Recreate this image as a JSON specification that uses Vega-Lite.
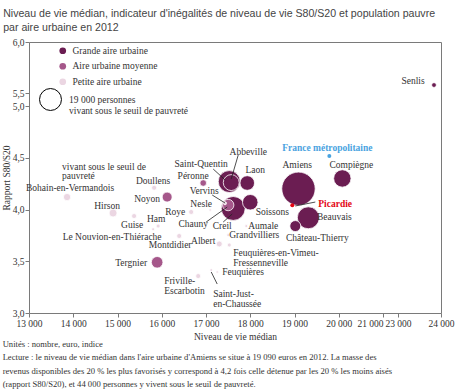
{
  "$schema": "https://vega.github.io/schema/vega-lite/v6.json",
  "background": "white",
  "padding": {"left": 0, "top": 8, "right": 2, "bottom": 2},
  "config": {
    "view": {"stroke": "#7a7a7a", "strokeWidth": 1},
    "font": "Liberation Sans Narrow",
    "axis": {
      "domain": false,
      "grid": false,
      "tickColor": "#7a7a7a",
      "tickSize": 4,
      "labelFont": "Liberation Sans Narrow",
      "labelFontSize": 9.5,
      "labelColor": "#333333",
      "labelPadding": 1,
      "titleFont": "Liberation Sans Narrow",
      "titleFontSize": 9.5,
      "titleFontWeight": "normal",
      "titleColor": "#333333",
      "labelOverlap": false,
      "labelFlush": false
    },
    "legend": {
      "labelFont": "Liberation Sans Narrow",
      "labelFontSize": 9.5,
      "labelColor": "#333333",
      "padding": 0
    },
    "text": {"font": "Liberation Sans Narrow", "fontSize": 9.5, "color": "#333333"}
  },
  "datasets": {
    "aires": [
      {"name": "Amiens", "label": "Amiens", "cat": "Grande aire urbaine", "niveau": 19090, "s80": 4.2, "pop": 44000, "lx": 19063, "ly": 4.43},
      {"name": "Creil", "label": "Creil", "cat": "Grande aire urbaine", "niveau": 17615, "s80": 4.01, "pop": 22600, "lx": 17366, "ly": 3.84},
      {"name": "Saint-Quentin", "label": "Saint-Quentin", "cat": "Grande aire urbaine", "niveau": 17525, "s80": 4.27, "pop": 19000, "lx": 16891, "ly": 4.44},
      {"name": "Beauvais", "label": "Beauvais", "cat": "Grande aire urbaine", "niveau": 19312, "s80": 3.92, "pop": 19000, "lx": 19900, "ly": 3.93},
      {"name": "Compiègne", "label": "Compiègne", "cat": "Grande aire urbaine", "niveau": 20081, "s80": 4.3, "pop": 11900, "lx": 20285, "ly": 4.43},
      {"name": "Abbeville", "label": "Abbeville", "cat": "Grande aire urbaine", "niveau": 17570, "s80": 4.26, "pop": 10000, "lx": 17955, "ly": 4.555},
      {"name": "Soissons", "label": "Soissons", "cat": "Grande aire urbaine", "niveau": 18000, "s80": 4.07, "pop": 9500, "lx": 18498, "ly": 3.976},
      {"name": "Laon", "label": "Laon", "cat": "Grande aire urbaine", "niveau": 17932, "s80": 4.256, "pop": 8400, "lx": 18113, "ly": 4.38},
      {"name": "Château-Thierry", "label": "Château-Thierry", "cat": "Grande aire urbaine", "niveau": 19018, "s80": 3.84, "pop": 4750, "lx": 19516, "ly": 3.72},
      {"name": "Senlis", "label": "Senlis", "cat": "Grande aire urbaine", "niveau": 23837, "s80": 5.578, "pop": 900, "lx": 23349, "ly": 5.618},
      {"name": "Tergnier", "label": "Tergnier", "cat": "Aire urbaine moyenne", "niveau": 15896, "s80": 3.49, "pop": 5300, "lx": 15308, "ly": 3.483},
      {"name": "Chauny", "label": "Chauny", "cat": "Aire urbaine moyenne", "niveau": 17502, "s80": 4.043, "pop": 5100, "lx": 16710, "ly": 3.86},
      {"name": "Noyon", "label": "Noyon", "cat": "Aire urbaine moyenne", "niveau": 16122, "s80": 4.12, "pop": 3900, "lx": 15670, "ly": 4.1},
      {"name": "Péronne", "label": "Péronne", "cat": "Aire urbaine moyenne", "niveau": 16937, "s80": 4.256, "pop": 1750, "lx": 16710, "ly": 4.32},
      {"name": "Hirson", "label": "Hirson", "cat": "Petite aire urbaine", "niveau": 14900, "s80": 3.966, "pop": 2500, "lx": 14765, "ly": 4.034},
      {"name": "Bohain-en-Vermandois", "label": "Bohain-en-Vermandois", "cat": "Petite aire urbaine", "niveau": 13860, "s80": 4.12, "pop": 2100, "lx": 13928, "ly": 4.21},
      {"name": "Albert", "label": "Albert", "cat": "Petite aire urbaine", "niveau": 17300, "s80": 3.667, "pop": 1400, "lx": 16937, "ly": 3.696},
      {"name": "Guise", "label": "Guise", "cat": "Petite aire urbaine", "niveau": 15375, "s80": 3.937, "pop": 1000, "lx": 15330, "ly": 3.85},
      {"name": "Doullens", "label": "Doullens", "cat": "Petite aire urbaine", "niveau": 15828, "s80": 4.21, "pop": 1000, "lx": 15805, "ly": 4.275},
      {"name": "Roye", "label": "Roye", "cat": "Petite aire urbaine", "niveau": 16665, "s80": 3.976, "pop": 1000, "lx": 16303, "ly": 3.976},
      {"name": "Montdidier", "label": "Montdidier", "cat": "Petite aire urbaine", "niveau": 16394, "s80": 3.744, "pop": 1000, "lx": 16190, "ly": 3.657},
      {"name": "Friville-Escarbotin", "label": "Friville-\nEscarbotin", "cat": "Petite aire urbaine", "niveau": 16824, "s80": 3.357, "pop": 1000, "lx": 16054, "ly": 3.314},
      {"name": "Ham", "label": "Ham", "cat": "Petite aire urbaine", "niveau": 15918, "s80": 3.84, "pop": 630, "lx": 15873, "ly": 3.908},
      {"name": "Feuquières-en-Vimeu-Fressenneville", "label": "Feuquières-en-Vimeu-\nFressenneville", "cat": "Petite aire urbaine", "niveau": 17525, "s80": 3.657, "pop": 630, "lx": 17615, "ly": 3.58},
      {"name": "Grandvilliers", "label": "Grandvilliers", "cat": "Petite aire urbaine", "niveau": 17502, "s80": 3.753, "pop": 350, "lx": 18090, "ly": 3.753},
      {"name": "Aumale", "label": "Aumale", "cat": "Petite aire urbaine", "niveau": 17910, "s80": 3.84, "pop": 350, "lx": 18294, "ly": 3.84},
      {"name": "Le Nouvion-en-Thiérache", "label": "Le Nouvion-en-Thiérache", "cat": "Petite aire urbaine", "niveau": 15805, "s80": 3.81, "pop": 350, "lx": 14878, "ly": 3.734},
      {"name": "Saint-Just-en-Chaussée", "label": "Saint-Just-\nen-Chaussée", "cat": "Petite aire urbaine", "niveau": 17118, "s80": 3.415, "pop": 300, "lx": 17163, "ly": 3.179},
      {"name": "Feuquières", "label": "Feuquières", "cat": "Petite aire urbaine", "niveau": 17253, "s80": 3.396, "pop": 250, "lx": 17366, "ly": 3.396},
      {"name": "Nesle", "label": "Nesle", "cat": "Petite aire urbaine", "niveau": 17095, "s80": 3.995, "pop": 230, "lx": 16891, "ly": 4.05},
      {"name": "Vervins", "label": "Vervins", "cat": "Petite aire urbaine", "niveau": 17430, "s80": 4.06, "pop": 350, "lx": 16959, "ly": 4.18}
    ],
    "refs": [
      {"name": "France métropolitaine", "niveau": 19787, "s80": 4.517, "lx": 19742, "ly": 4.594},
      {"name": "Picardie", "niveau": 18950, "s80": 4.04, "lx": 19538, "ly": 4.05}
    ],
    "leaders": [
      {"name": "Abbeville", "x1": 17728, "y1": 4.526, "x2": 17570, "y2": 4.295},
      {"name": "Saint-Quentin", "x1": 17163, "y1": 4.391, "x2": 17434, "y2": 4.285},
      {"name": "Vervins", "x1": 17140, "y1": 4.14, "x2": 17430, "y2": 4.063},
      {"name": "Chauny", "x1": 17004, "y1": 3.879, "x2": 17480, "y2": 4.024},
      {"name": "Creil", "x1": 17389, "y1": 3.879, "x2": 17593, "y2": 3.956},
      {"name": "Picardie", "x1": 19018, "y1": 4.034, "x2": 19470, "y2": 4.072},
      {"name": "Saint-Just-en-Chaussée", "x1": 17118, "y1": 3.396, "x2": 17253, "y2": 3.28}
    ],
    "note": [
      {"text": "vivant sous le seuil de\npauvreté", "niveau": 13747, "s80": 4.41}
    ]
  },
  "title": {
    "text": [
      "Unités : nombre, euro, indice",
      "Lecture : le niveau de vie médian dans l'aire urbaine d'Amiens se situe à 19 090 euros en 2012. La masse des",
      "revenus disponibles des 20 % les plus favorisés y correspond à 4,2 fois celle détenue par les 20 % les moins aisés",
      "(rapport S80/S20), et 44 000 personnes y vivent sous le seuil de pauvreté."
    ],
    "orient": "bottom",
    "anchor": "start",
    "frame": "bounds",
    "font": "Liberation Sans Narrow",
    "fontSize": 8.6,
    "fontWeight": "normal",
    "color": "#333333",
    "lineHeight": 13.5,
    "offset": -2,
    "dx": 2
  },
  "vconcat": [
    {
      "width": 412,
      "height": 271,
      "title": {
        "text": [
          "Niveau de vie médian, indicateur d'inégalités de niveau de vie S80/S20 et population pauvre",
          "par aire urbaine en 2012"
        ],
        "anchor": "start",
        "frame": "bounds",
        "font": "Liberation Sans",
        "fontSize": 10.6,
        "fontWeight": "normal",
        "color": "#444444",
        "lineHeight": 14,
        "offset": 3,
        "dx": 2
      },
      "layer": [
        {
          "data": {"name": "aires"},
          "mark": {"type": "point", "shape": "circle", "filled": true, "opacity": 1, "stroke": "white", "strokeWidth": 0.8},
          "encoding": {
            "x": {
              "field": "niveau", "type": "quantitative",
              "scale": {"domain": [13000, 21000, 23000, 24000], "range": [0, 354, 369, 412], "nice": false, "zero": false},
              "axis": {
                "title": "Niveau de vie médian",
                "values": [13000, 14000, 15000, 16000, 17000, 18000, 19000, 20000, 21000, 23000, 24000],
                "labelExpr": "replace(format(datum.value, ','), ',', ' ')",
                "labelAlign": {"condition": {"test": "datum.value == 21000", "value": "right"}, "value": "center"},
                "titlePadding": 4
              }
            },
            "y": {
              "field": "s80", "type": "quantitative",
              "scale": {"domain": [3, 5, 5.5, 6], "range": [271, 64, 51, 0], "nice": false, "zero": false},
              "axis": {
                "title": "Rapport S80/S20",
                "values": [3, 3.5, 4, 4.5, 5, 5.5, 6],
                "labelExpr": "replace(format(datum.value, '.1f'), '.', ',')",
                "titlePadding": 1
              }
            },
            "size": {
              "field": "pop", "type": "quantitative",
              "scale": {"type": "linear", "domain": [0, 44000], "range": [0, 1116], "zero": true},
              "legend": {
                "orient": "none",
                "legendX": 10,
                "legendY": 46,
                "title": null,
                "values": [19000],
                "labelExpr": "['19 000  personnes', 'vivant sous le seuil de pauvreté']",
                "symbolFillColor": "transparent",
                "symbolStrokeColor": "#000000",
                "symbolStrokeWidth": 1,
                "labelOffset": 7,
                "encode": {"symbols": {"update": {"fill": {"value": "transparent"}, "stroke": {"value": "#000000"}, "strokeWidth": {"value": 1}}}}
              }
            },
            "color": {
              "field": "cat", "type": "nominal",
              "scale": {"domain": ["Grande aire urbaine", "Aire urbaine moyenne", "Petite aire urbaine"], "range": ["#6b1d52", "#a5578a", "#ebd6e2"]},
              "legend": {
                "orient": "none",
                "legendX": 29,
                "legendY": 4,
                "title": null,
                "symbolType": "circle",
                "symbolSize": 45,
                "symbolStrokeWidth": 0,
                "rowPadding": 4.5,
                "labelOffset": 5
              }
            }
          }
        },
        {
          "data": {"name": "refs"},
          "transform": [{"filter": "datum.name == 'France métropolitaine'"}],
          "mark": {"type": "point", "shape": "circle", "filled": true, "opacity": 1, "color": "#4aa3df", "size": 16},
          "encoding": {
            "x": {"field": "niveau", "type": "quantitative"},
            "y": {"field": "s80", "type": "quantitative"}
          }
        },
        {
          "data": {"name": "refs"},
          "transform": [{"filter": "datum.name == 'Picardie'"}],
          "mark": {"type": "point", "shape": "circle", "filled": true, "opacity": 1, "color": "#e30613", "size": 16},
          "encoding": {
            "x": {"field": "niveau", "type": "quantitative"},
            "y": {"field": "s80", "type": "quantitative"}
          }
        },
        {
          "data": {"name": "leaders"},
          "mark": {"type": "rule", "color": "#222222", "strokeWidth": 0.8},
          "encoding": {
            "x": {"field": "x1", "type": "quantitative"},
            "y": {"field": "y1", "type": "quantitative"},
            "x2": {"field": "x2"},
            "y2": {"field": "y2"}
          }
        },
        {
          "data": {"name": "aires"},
          "transform": [{"filter": {"not": {"field": "name", "oneOf": ["Friville-Escarbotin", "Feuquières-en-Vimeu-Fressenneville", "Saint-Just-en-Chaussée", "Feuquières"]}}}],
          "mark": {"type": "text", "align": "center", "baseline": "middle", "lineBreak": "\n", "lineHeight": 10},
          "encoding": {
            "x": {"field": "lx", "type": "quantitative"},
            "y": {"field": "ly", "type": "quantitative"},
            "text": {"field": "label"}
          }
        },
        {
          "data": {"name": "aires"},
          "transform": [{"filter": {"field": "name", "oneOf": ["Friville-Escarbotin", "Feuquières-en-Vimeu-Fressenneville", "Saint-Just-en-Chaussée", "Feuquières"]}}],
          "mark": {"type": "text", "align": "left", "baseline": "middle", "lineBreak": "\n", "lineHeight": 10},
          "encoding": {
            "x": {"field": "lx", "type": "quantitative"},
            "y": {"field": "ly", "type": "quantitative"},
            "text": {"field": "label"}
          }
        },
        {
          "data": {"name": "note"},
          "mark": {"type": "text", "align": "left", "baseline": "middle", "lineBreak": "\n", "lineHeight": 9},
          "encoding": {
            "x": {"field": "niveau", "type": "quantitative"},
            "y": {"field": "s80", "type": "quantitative"},
            "text": {"field": "text"}
          }
        },
        {
          "data": {"name": "refs"},
          "transform": [{"filter": "datum.name == 'France métropolitaine'"}],
          "mark": {"type": "text", "align": "center", "baseline": "middle", "color": "#4aa3df", "fontWeight": "bold", "font": "Liberation Sans Narrow"},
          "encoding": {
            "x": {"field": "lx", "type": "quantitative"},
            "y": {"field": "ly", "type": "quantitative"},
            "text": {"field": "name"}
          }
        },
        {
          "data": {"name": "refs"},
          "transform": [{"filter": "datum.name == 'Picardie'"}],
          "mark": {"type": "text", "align": "left", "baseline": "middle", "color": "#e30613", "fontWeight": "bold", "font": "Liberation Sans Narrow"},
          "encoding": {
            "x": {"field": "lx", "type": "quantitative"},
            "y": {"field": "ly", "type": "quantitative"},
            "text": {"field": "name"}
          }
        },
        {
          "mark": {"type": "rect", "color": "white", "clip": false},
          "encoding": {"x": {"datum": 21030}, "x2": {"datum": 22970}, "y": {"datum": 5.96}, "y2": {"datum": 6.04}}
        },
        {
          "mark": {"type": "rect", "color": "white", "clip": false},
          "encoding": {"x": {"datum": 21030}, "x2": {"datum": 22970}, "y": {"datum": 2.97}, "y2": {"datum": 3.03}}
        },
        {
          "mark": {"type": "rect", "color": "white", "clip": false},
          "encoding": {"x": {"datum": 12950}, "x2": {"datum": 13050}, "y": {"datum": 5.03}, "y2": {"datum": 5.47}}
        },
        {
          "mark": {"type": "rect", "color": "white", "clip": false},
          "encoding": {"x": {"datum": 23970}, "x2": {"datum": 24030}, "y": {"datum": 5.03}, "y2": {"datum": 5.47}}
        },
        {
          "mark": {"type": "text", "text": "//////", "fontSize": 7, "color": "#7a7a7a", "font": "Liberation Sans", "baseline": "middle"},
          "encoding": {"x": {"datum": 22000}, "y": {"datum": 6}}
        },
        {
          "mark": {"type": "text", "text": "//////", "fontSize": 7, "color": "#7a7a7a", "font": "Liberation Sans", "baseline": "middle"},
          "encoding": {"x": {"datum": 22000}, "y": {"datum": 3}}
        },
        {
          "mark": {"type": "text", "text": "//////", "fontSize": 7, "color": "#7a7a7a", "font": "Liberation Sans", "baseline": "middle", "angle": 90},
          "encoding": {"x": {"datum": 13000}, "y": {"datum": 5.25}}
        },
        {
          "mark": {"type": "text", "text": "//////", "fontSize": 7, "color": "#7a7a7a", "font": "Liberation Sans", "baseline": "middle", "angle": 90},
          "encoding": {"x": {"datum": 24000}, "y": {"datum": 5.25}}
        }
      ]
    }
  ]
}
